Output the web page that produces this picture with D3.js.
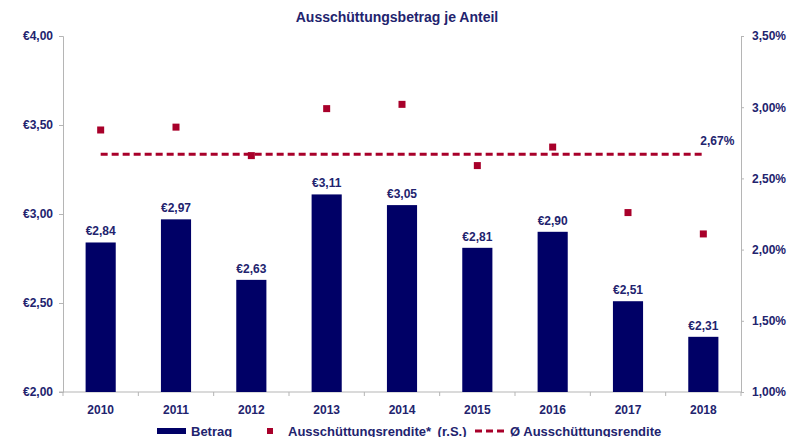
<!DOCTYPE html>
<html>
<head>
<meta charset="utf-8">
<script src="https://cdn.jsdelivr.net/npm/d3@7/dist/d3.min.js"></script>
<style>
  body { margin: 0; background: #fff; }
  svg text { font-family: "Liberation Sans", Arial, sans-serif; font-weight: bold; fill: #22236e; }
</style>
</head>
<body>
<div id="chart"></div>
<script>
// Ausschüttungsbetrag je Anteil — Balken (links) + Rendite-Punkte (rechts)
const years = ['2010', '2011', '2012', '2013', '2014', '2015', '2016', '2017', '2018'];
const betrag = [2.84, 2.97, 2.63, 3.11, 3.05, 2.81, 2.90, 2.51, 2.31];
const rendite = [2.84, 2.86, 2.66, 2.99, 3.02, 2.59, 2.72, 2.26, 2.11];
const avgRendite = 2.67;
const leftTicks = [2.0, 2.5, 3.0, 3.5, 4.0];
const rightTicks = [1.0, 1.5, 2.0, 2.5, 3.0, 3.5];

const width = 792, height = 437;
const margin = { top: 36, right: 51, bottom: 45, left: 63 };
const navy = '#000066', red = '#a8002a', textCol = '#22236e', axisCol = '#b5b5b5';

const fmtEuro = v => '€' + v.toFixed(2).replace('.', ',');
const fmtPct = v => v.toFixed(2).replace('.', ',') + '%';

const svg = d3.select('#chart').append('svg')
    .attr('width', width)
    .attr('height', height);

const x = d3.scaleBand()
    .domain(years)
    .range([margin.left, width - margin.right])
    .paddingInner(0.6)
    .paddingOuter(0.3);

const y = d3.scaleLinear()
    .domain([2, 4])
    .range([height - margin.bottom, margin.top]);

const y2 = d3.scaleLinear()
    .domain([1, 3.5])
    .range([height - margin.bottom, margin.top]);

// title
svg.append('text')
    .attr('x', 397)
    .attr('y', 22)
    .attr('text-anchor', 'middle')
    .attr('font-size', '14px')
    .text('Ausschüttungsbetrag je Anteil');

// axes
const yAxis = svg.append('g')
    .attr('transform', `translate(${margin.left},0)`)
    .call(d3.axisLeft(y).tickValues(leftTicks).tickFormat(fmtEuro).tickSize(4).tickPadding(6));

const y2Axis = svg.append('g')
    .attr('transform', `translate(${width - margin.right},0)`)
    .call(d3.axisRight(y2).tickValues(rightTicks).tickFormat(fmtPct).tickSize(3).tickPadding(8));

// x axis: ticks at category boundaries
const xAxis = svg.append('g')
    .attr('transform', `translate(0,${height - margin.bottom})`);
const step = x.step();
const bounds = years.map((d, i) => margin.left + i * step).concat([width - margin.right]);
xAxis.append('line')
    .attr('x1', margin.left - 4).attr('x2', width - margin.right)
    .attr('stroke', axisCol);
xAxis.selectAll('line.tk').data(bounds).enter().append('line')
    .attr('class', 'tk')
    .attr('x1', d => d).attr('x2', d => d)
    .attr('y1', 0).attr('y2', 4)
    .attr('stroke', axisCol);
xAxis.selectAll('text').data(years).enter().append('text')
    .attr('x', d => x(d) + x.bandwidth() / 2)
    .attr('y', 22)
    .attr('text-anchor', 'middle')
    .attr('font-size', '12px')
    .text(d => d);

[yAxis, y2Axis].forEach(g => {
    g.select('.domain').attr('stroke', axisCol);
    g.selectAll('.tick line').attr('stroke', axisCol);
    g.selectAll('.tick text').attr('font-size', '12px').style('fill', textCol);
});

// bars
svg.append('g').selectAll('rect')
    .data(betrag)
    .enter().append('rect')
    .attr('x', (d, i) => x(years[i]))
    .attr('y', d => y(d))
    .attr('width', x.bandwidth())
    .attr('height', d => y(2) - y(d))
    .attr('fill', navy);

svg.append('g').selectAll('text')
    .data(betrag)
    .enter().append('text')
    .attr('x', (d, i) => x(years[i]) + x.bandwidth() / 2)
    .attr('y', d => y(d) - 7)
    .attr('text-anchor', 'middle')
    .attr('font-size', '12px')
    .text(fmtEuro);

// average line
const cx = i => x(years[i]) + x.bandwidth() / 2;
svg.append('line')
    .attr('x1', cx(0))
    .attr('x2', cx(years.length - 1))
    .attr('y1', y2(avgRendite))
    .attr('y2', y2(avgRendite))
    .attr('stroke', red)
    .attr('stroke-width', 3)
    .attr('stroke-dasharray', '7,4');

svg.append('text')
    .attr('x', cx(years.length - 1) + 14)
    .attr('y', y2(avgRendite) - 9)
    .attr('text-anchor', 'middle')
    .attr('font-size', '12px')
    .text(fmtPct(avgRendite));

// yield markers
svg.append('g').selectAll('rect')
    .data(rendite)
    .enter().append('rect')
    .attr('x', (d, i) => cx(i) - 3.5)
    .attr('y', d => y2(d) - 3.5)
    .attr('width', 7)
    .attr('height', 7)
    .attr('fill', red);

// legend
const lg = svg.append('g').attr('transform', 'translate(0,431)');
lg.append('rect').attr('x', 157).attr('y', -3).attr('width', 29).attr('height', 6).attr('fill', navy);
lg.append('text').attr('x', 191).attr('y', 4.5).attr('font-size', '13px').text('Betrag');
lg.append('rect').attr('x', 267).attr('y', -3).attr('width', 6).attr('height', 6).attr('fill', red);
lg.append('text').attr('x', 288).attr('y', 4.5).attr('font-size', '13px')
    .style('word-spacing', '3px').text('Ausschüttungsrendite* (r.S.)');
lg.append('line').attr('x1', 475).attr('x2', 507).attr('y1', 0).attr('y2', 0)
    .attr('stroke', red).attr('stroke-width', 3).attr('stroke-dasharray', '7,4');
lg.append('text').attr('x', 510).attr('y', 4.5).attr('font-size', '13px').text('Ø Ausschüttungsrendite');
</script>
</body>
</html>
